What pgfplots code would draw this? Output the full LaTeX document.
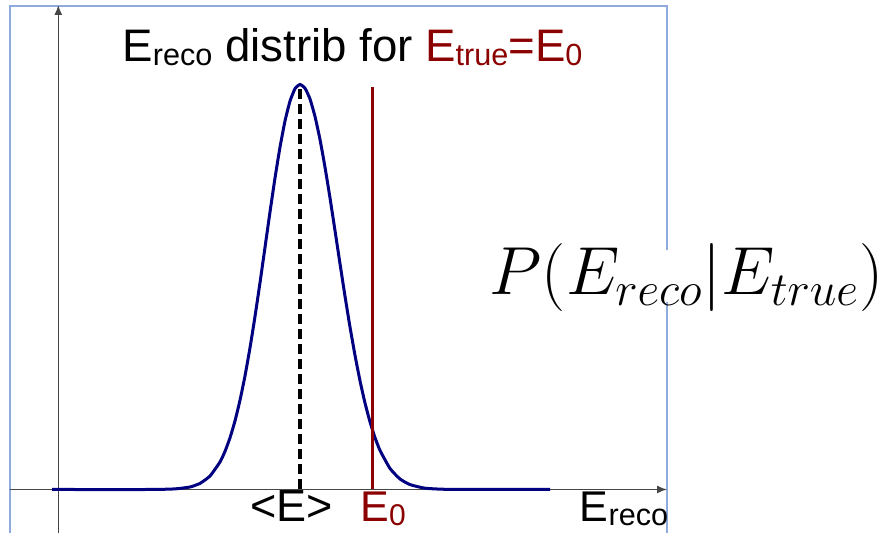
\RequirePackage{fix-cm}
\documentclass[border=0pt]{standalone}
\usepackage{fontspec}
\setmainfont{Liberation Sans}
\usepackage{pgfplots}
\pgfplotsset{compat=1.18}
\usetikzlibrary{arrows.meta}
\definecolor{dred}{RGB}{139,0,0}
\definecolor{navyc}{RGB}{0,0,128}
\definecolor{framec}{RGB}{143,170,220}
\definecolor{axisc}{RGB}{70,70,70}
\newcommand{\sbig}[1]{\raisebox{-1.8pt}{\fontsize{15.3}{15}\selectfont #1}}
\newcommand{\ssmall}[1]{\raisebox{-1.7pt}{\fontsize{15}{15}\selectfont #1}}
\begin{document}
\begin{tikzpicture}
\begin{axis}[
  scale only axis, width=442pt, height=266.5pt,
  xmin=0, xmax=884, ymin=0, ymax=533,
  hide axis, clip=false]
% frame
\draw[framec, line width=1pt] (axis cs:10,0) -- (axis cs:10,527) -- (axis cs:667,527) -- (axis cs:667,283);
\draw[framec, line width=1pt] (axis cs:667,231) -- (axis cs:667,0);
% axes
\draw[axisc, line width=0.7pt, -{Latex[length=5pt,width=4pt]}] (axis cs:10,43.5) -- (axis cs:667,43.5);
\draw[axisc, line width=0.7pt, -{Latex[length=5pt,width=4pt]}] (axis cs:58.3,0) -- (axis cs:58.3,528);
% distribution
\addplot[navyc, line width=1.5pt, smooth, tension=0.3] coordinates {
(52,43.5) (150,43.5) (175,44.1) (190,46.0) (200,49.6) (210,57.0) (220,71.0)
(225,81.6) (230,95.2) (235,112.1) (240,132.8) (245,157.1) (250,185.2) (255,216.5)
(260,250.3) (265,285.6) (270,321.0) (275,355.0) (280,385.8) (285,412.0) (290,431.9)
(295,444.3) (300,448.5)
(305,444.8) (310,434.0) (315,416.5) (320,393.5) (325,365.8) (330,335.1) (335,302.4)
(340,269.3) (345,236.8) (350,206.0) (355,177.7) (360,152.2) (365,130.0) (370,111.1)
(375,95.4) (380,82.6) (390,64.5) (400,54.0) (410,48.4) (425,44.8) (450,43.6) (550,43.5)
};
% mean (dashed)
\addplot[black, line width=1.6pt, dash pattern=on 5pt off 2.5pt] coordinates {(300,43.5) (300,448.5)};
% E0 line
\addplot[dred, line width=1.5pt] coordinates {(372,43.5) (372,446)};
% texts
\node[anchor=base, inner sep=0pt, font=\fontsize{22.8}{24}\selectfont] at (axis cs:352.5,471.3)
  {E\sbig{reco} distrib for \textcolor{dred}{E\sbig{true}=E\sbig{0}}};
\node[anchor=base, inner sep=0pt, font=\fontsize{22.5}{24}\selectfont] at (axis cs:291.5,11)
  {<E>};
\node[anchor=base, inner sep=0pt, font=\fontsize{21.5}{24}\selectfont, text=dred] at (axis cs:383,11)
  {E\ssmall{0}};
\node[anchor=base, inner sep=0pt, font=\fontsize{21.5}{24}\selectfont] at (axis cs:624,11.3)
  {E\sbig{reco}};
\node[anchor=base, inner sep=0pt, font=\fontsize{34}{38}\selectfont] at (axis cs:686.5,238)
  {$P(E_{reco}|E_{true})$};
\end{axis}
\pgfresetboundingbox
\path (0,0) rectangle (442pt,266.5pt);
\end{tikzpicture}
\end{document}
